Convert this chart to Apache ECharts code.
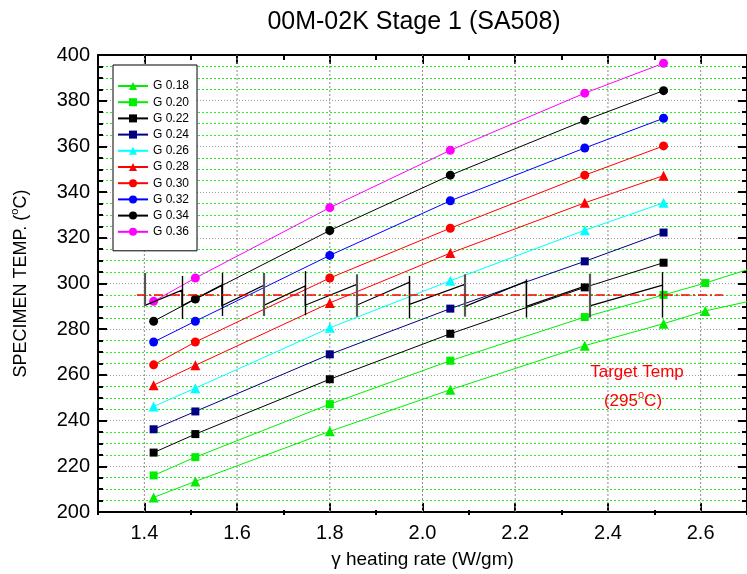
<!DOCTYPE html>
<html><head><meta charset="utf-8">
<script src="https://cdn.jsdelivr.net/npm/echarts@6/dist/echarts.min.js"></script>
<style>html,body{margin:0;padding:0;background:#fff}#c{width:747px;height:574px}</style>
</head><body><div id="c"></div>
<script>
const FONT = "'Liberation Sans', Arial, sans-serif";

// ---- data ----
const seriesNames = ['G 0.18','G 0.20','G 0.22','G 0.24','G 0.26','G 0.28','G 0.30','G 0.32','G 0.34','G 0.36'];
const heatRate    = [1.42, 1.51, 1.80, 2.06, 2.35, 2.52];
const heatRateLow = [1.42, 1.51, 1.80, 2.06, 2.35, 2.52, 2.61, 2.70];
const g018 = [206.4, 213.4, 235.3, 253.5, 272.8, 282.4, 288.0, 292.0];
const g020 = [216.0, 224.0, 247.2, 266.2, 285.3, 295.0, 300.2, 306.0];
const g022 = [226.0, 234.1, 258.1, 278.0, 298.3, 309.1];
const g024 = [236.2, 244.0, 269.0, 289.0, 309.7, 322.3];
const g026 = [246.2, 254.2, 280.6, 301.2, 323.3, 335.3];
const g028 = [255.5, 264.2, 291.5, 313.3, 335.3, 347.2];
const g030 = [264.4, 274.4, 302.4, 324.2, 347.4, 360.2];
const g032 = [274.4, 283.5, 312.3, 336.2, 359.3, 372.3];
const g034 = [283.5, 293.2, 323.2, 347.4, 371.4, 384.4];
const g036 = [292.2, 302.4, 333.2, 358.3, 383.3, 396.4];

const xMajorTicks = [1.4, 1.6, 1.8, 2.0, 2.2, 2.4, 2.6];
const xMinorTicks = [1.3, 1.5, 1.7, 1.9, 2.1, 2.3, 2.5, 2.7];
const yRange = [200, 400];

const targetTemp  = 295;
const targetRange = [1.384, 2.648];

// stepped "ladder" annotation
const ladderX    = [1.400, 1.481, 1.567, 1.658, 1.747, 1.858, 1.972, 2.091, 2.224, 2.361, 2.518];
const ladderLow  = [290.3, 290.2, 290.2, 290.5, 290.5, 290.5, 290.9, 289.9, 290.0, 290.2];
const ladderHigh = [297.1, 299.3, 299.3, 298.9, 299.6, 300.6, 299.6, 301.0, 299.6, 299.3];
const barBottom  = [290.2, 284.5, 285.8, 285.8, 286.1, 285.5, 284.7, 285.5, 285.1, 285.1, 285.1];
const barTop     = [304.6, 303.3, 304.7, 304.6, 305.4, 304.0, 303.3, 304.0, 301.8, 304.3, 305.0];

// ---- styles ----
const seriesValues = [g018, g020, g022, g024, g026, g028, g030, g032, g034, g036];
const seriesX      = [heatRateLow, heatRateLow, heatRate, heatRate, heatRate, heatRate, heatRate, heatRate, heatRate, heatRate];
const colors  = ['#00ee00','#00ee00','#000000','#000080','#00ffff','#ff0000','#ff0000','#0000ff','#000000','#ff00ff'];
const symbols = ['triangle','rect','rect','rect','triangle','triangle','circle','circle','circle','circle'];
const symSize = {triangle: 10, rect: 8, circle: 9};
const greyBar = [true,false,false,true,false,true,false,true,false,true,false];

const dataSeries = seriesNames.map((name, i) => ({
  name, type: 'line', xAxisIndex: 0, yAxisIndex: 0,
  data: seriesValues[i].map((v, j) => {
    const item = {value: [seriesX[i][j], v]};
    if (seriesX[i][j] >= 2.7) item.symbol = 'none';
    return item;
  }),
  symbol: symbols[i], symbolSize: symSize[symbols[i]],
  itemStyle: {color: colors[i]},
  lineStyle: {color: colors[i], width: 1},
  clip: true, z: 3
}));

const saw = [];
for (let i = 0; i < ladderLow.length; i++) {
  saw.push([ladderX[i], ladderLow[i]]);
  saw.push([ladderX[i + 1], ladderHigh[i]]);
}
const ladderSeries = {
  type: 'lines', coordinateSystem: 'cartesian2d', xAxisIndex: 0, yAxisIndex: 0,
  polyline: true, silent: true, z: 4,
  lineStyle: {color: '#000', width: 1.2, opacity: 1},
  data: [{coords: saw}]
};
const barSeries = {
  type: 'lines', coordinateSystem: 'cartesian2d', xAxisIndex: 0, yAxisIndex: 0,
  silent: true, z: 4,
  data: ladderX.map((x, i) => ({
    coords: [[x, barBottom[i]], [x, barTop[i]]],
    lineStyle: greyBar[i] ? {color: '#555', width: 2.2, opacity: 1} : {color: '#000', width: 1.4, opacity: 1}
  }))
};
const targetSeries = {
  type: 'line', xAxisIndex: 0, yAxisIndex: 0, symbol: 'none', z: 5, silent: true,
  data: targetRange.map(x => [x, targetTemp]),
  lineStyle: {color: '#ff0000', width: 1.6, type: [9, 3, 2, 3]}
};
// vertical grid lines at the major x ticks
const vGridSeries = xMajorTicks.map(v => ({
  type: 'line', xAxisIndex: 0, yAxisIndex: 0, symbol: 'none', silent: true, z: 2,
  lineStyle: {color: '#8c8c8c', width: 1, type: [2, 2]},
  data: [[v, yRange[0]], [v, yRange[1]]]
}));

const GL = 98, GT = 55, GW = 653, GH = 460;
const axisFont = {fontFamily: FONT, fontSize: 20, color: '#000'};
const greyGrid = {show: true, lineStyle: {color: '#a0a0a0', width: 1, type: [1, 2]}};

const chart = echarts.init(document.getElementById('c'), null, {renderer: 'canvas'});
chart.setOption({
  animation: false,
  backgroundColor: '#fff',
  grid: [
    {left: GL, top: GT, width: GW, height: GH},
    {left: GL, top: GT, width: GW, height: GH}
  ],
  xAxis: [
    {type: 'value', gridIndex: 0, position: 'bottom', min: 1.3, max: 2.7,
     axisLine: {show: true, onZero: false, lineStyle: {color: '#000', width: 2}},
     axisTick: {show: true, inside: true, length: 9, customValues: xMajorTicks, lineStyle: {color: '#000', width: 2}},
     axisLabel: {show: true, customValues: xMajorTicks, margin: 11, formatter: v => v.toFixed(1), ...axisFont},
     splitLine: {show: false},
     name: 'γ heating rate (W/gm)', nameLocation: 'middle', nameGap: 38,
     nameTextStyle: {fontFamily: FONT, fontSize: 19, color: '#000'}},
    {type: 'value', gridIndex: 0, position: 'top', min: 1.3, max: 2.7,
     axisLine: {show: true, onZero: false, lineStyle: {color: '#000', width: 2}},
     axisTick: {show: true, inside: true, length: 9, customValues: xMajorTicks, lineStyle: {color: '#000', width: 2}},
     axisLabel: {show: false}, splitLine: {show: false}},
    {type: 'value', gridIndex: 1, position: 'bottom', min: 1.3, max: 2.7,
     axisLine: {show: false},
     axisTick: {show: true, inside: true, length: 5, customValues: xMinorTicks, lineStyle: {color: '#000', width: 2}},
     axisLabel: {show: false}, splitLine: {show: false}},
    {type: 'value', gridIndex: 1, position: 'top', min: 1.3, max: 2.7,
     axisLine: {show: false},
     axisTick: {show: true, inside: true, length: 5, customValues: xMinorTicks, lineStyle: {color: '#000', width: 2}},
     axisLabel: {show: false}, splitLine: {show: false}}
  ],
  yAxis: [
    {type: 'value', gridIndex: 0, position: 'left', min: yRange[0], max: yRange[1], interval: 20,
     axisLine: {show: true, lineStyle: {color: '#000', width: 2}},
     axisTick: {show: true, inside: true, length: 9, lineStyle: {color: '#000', width: 2}},
     minorTick: {show: true, splitNumber: 4, length: 5, lineStyle: {color: '#000', width: 2}},
     axisLabel: {show: true, margin: 8, ...axisFont},
     splitLine: greyGrid,
     minorSplitLine: {show: true, lineStyle: {color: '#22ee22', width: 1, type: [2, 2]}},
     name: 'SPECIMEN TEMP. ({sup|o}C)', nameLocation: 'middle', nameGap: 64,
     nameTextStyle: {fontFamily: FONT, fontSize: 18, color: '#000',
       rich: {sup: {fontFamily: FONT, fontSize: 11, color: '#000', verticalAlign: 'top', padding: [0, 0, 14, 0]}}}},
    {type: 'value', gridIndex: 0, position: 'right', min: yRange[0], max: yRange[1], interval: 20,
     axisLine: {show: true, lineStyle: {color: '#000', width: 2}},
     axisTick: {show: true, inside: true, length: 9, lineStyle: {color: '#000', width: 2}},
     minorTick: {show: true, splitNumber: 4, length: 5, lineStyle: {color: '#000', width: 2}},
     axisLabel: {show: false}, splitLine: {show: false}},
    {type: 'value', gridIndex: 1, min: yRange[0], max: yRange[1], show: false},
    {type: 'value', gridIndex: 1, min: yRange[0], max: yRange[1], show: false}
  ],
  legend: {
    data: seriesNames, orient: 'vertical', left: 113, top: 65,
    padding: [15, 8, 13, 4], itemGap: 4.2, itemWidth: 30, itemHeight: 10,
    backgroundColor: '#fff', borderColor: '#000', borderWidth: 1, borderRadius: 0,
    textStyle: {fontFamily: FONT, fontSize: 12, color: '#000'},
    selectedMode: false, z: 10
  },
  graphic: [
    {type: 'text', x: 414, y: 22, z: 20,
     style: {text: '00M-02K Stage 1 (SA508)', fontFamily: FONT, fontSize: 25, fill: '#000',
             textAlign: 'center', textVerticalAlign: 'middle'}},
    {type: 'text', x: 637, y: 372, z: 20,
     style: {text: 'Target Temp', fontFamily: FONT, fontSize: 17, fill: '#ff0000',
             textAlign: 'center', textVerticalAlign: 'middle'}},
    {type: 'text', x: 633, y: 401, z: 20,
     style: {text: '(295{sup|o}C)', fontFamily: FONT, fontSize: 17, fill: '#ff0000',
             textAlign: 'center', textVerticalAlign: 'middle',
             rich: {sup: {fontFamily: FONT, fontSize: 11, fill: '#ff0000', verticalAlign: 'top', padding: [0, 0, 13, 0]}}}}
  ],
  series: [...vGridSeries, ...dataSeries, targetSeries, ladderSeries, barSeries]
});
</script></body></html>
